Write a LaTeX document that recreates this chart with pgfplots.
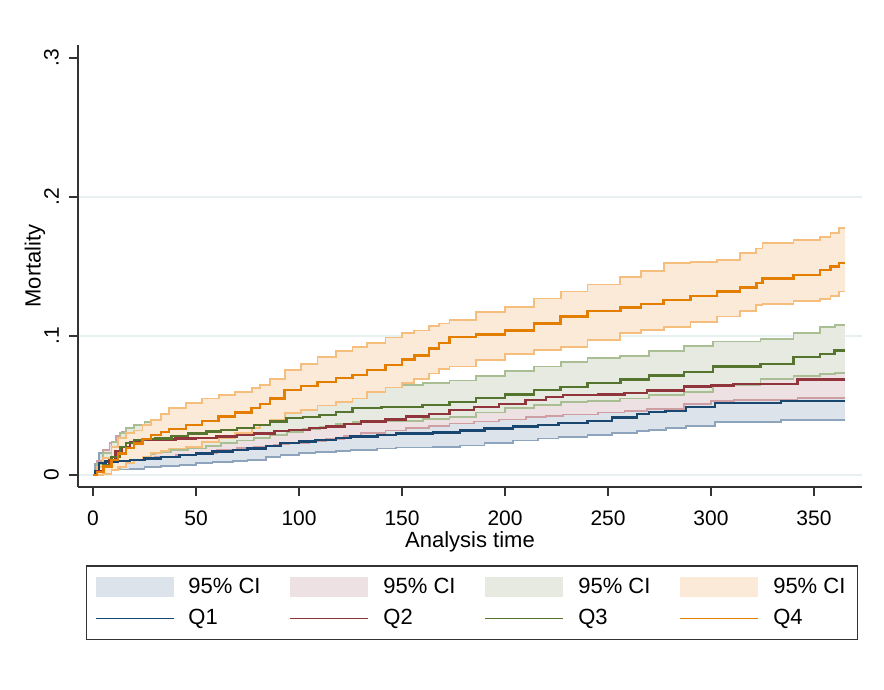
\documentclass[border=0pt]{standalone}
\usepackage{fontspec}
\setmainfont{Liberation Sans}
\usepackage{pgfplots}
\pgfplotsset{compat=1.18}
\usepackage{pgfplotstable}
\usepgfplotslibrary{fillbetween}

\definecolor{q1c}{RGB}{26,71,111}
\definecolor{q2c}{RGB}{144,53,59}
\definecolor{q3c}{RGB}{85,117,47}
\definecolor{q4c}{RGB}{227,126,0}
\definecolor{ci1f}{RGB}{221,227,235}
\definecolor{ci2f}{RGB}{238,225,227}
\definecolor{ci3f}{RGB}{230,234,224}
\definecolor{ci4f}{RGB}{251,234,215}
\definecolor{ci1l}{RGB}{141,164,188}
\definecolor{ci2l}{RGB}{206,158,163}
\definecolor{ci3l}{RGB}{170,190,148}
\definecolor{ci4l}{RGB}{246,190,125}
\definecolor{gridc}{RGB}{232,240,242}

\pgfplotsset{
  ciimg/.style={legend image code/.code={\fill[##1] (0pt,-5pt) rectangle (39pt,5pt);}},
  q1img/.style={legend image code/.code={\draw[q1c, line width=0.9pt] (0pt,0pt) -- (39pt,0pt);}},
  q2img/.style={legend image code/.code={\draw[q2c, line width=0.9pt] (0pt,0pt) -- (39pt,0pt);}},
  q3img/.style={legend image code/.code={\draw[q3c, line width=0.9pt] (0pt,0pt) -- (39pt,0pt);}},
  q4img/.style={legend image code/.code={\draw[q4c, line width=0.9pt] (0pt,0pt) -- (39pt,0pt);}},
}

% cumulative mortality, quartile groups: time, estimate, lower and upper 95% CI
\pgfplotstableread{
t est lo hi
0 0 0 0
1 0.003 0.001 0.008
3 0.0086 0.003 0.016
6 0.0096 0.0036 0.018
12 0.0100 0.0040 0.0185
18 0.0110 0.0046 0.020
25 0.0120 0.0058 0.021
33 0.0130 0.0065 0.022
42 0.0144 0.0072 0.024
50 0.0155 0.0085 0.026
58 0.0168 0.0096 0.027
68 0.0178 0.0102 0.029
75 0.0190 0.0108 0.030
84 0.0210 0.0128 0.032
91 0.0230 0.0144 0.035
100 0.0240 0.0156 0.036
108 0.0250 0.0168 0.037
118 0.0265 0.0174 0.039
125 0.0276 0.0180 0.040
138 0.0288 0.0190 0.041
147 0.0298 0.0198 0.043
165 0.0305 0.0202 0.044
178 0.0320 0.0212 0.046
190 0.0335 0.0228 0.047
204 0.0350 0.0248 0.049
216 0.0360 0.0262 0.050
226 0.0372 0.0276 0.052
240 0.0390 0.0290 0.053
252 0.0415 0.0305 0.056
264 0.0440 0.0318 0.059
270 0.0455 0.0325 0.061
278 0.0462 0.0336 0.062
288 0.0490 0.0352 0.066
302 0.0520 0.0384 0.068
334 0.0533 0.0396 0.070
365 0.0533 0.0396 0.070
}\qone

\pgfplotstableread{
t est lo hi
0 0 0 0
2 0.003 0.0005 0.010
5 0.0070 0.0025 0.018
8 0.0108 0.0045 0.023
11 0.0170 0.0075 0.028
14 0.0200 0.0090 0.031
18 0.0235 0.0110 0.0336
24 0.0250 0.0125 0.036
30 0.0255 0.0132 0.037
40 0.0262 0.0145 0.038
50 0.0268 0.0160 0.039
60 0.0276 0.0178 0.040
70 0.0288 0.0195 0.042
78 0.0300 0.0205 0.044
88 0.0315 0.0220 0.046
95 0.0324 0.0232 0.047
105 0.0340 0.0245 0.049
113 0.0350 0.0260 0.050
122 0.0365 0.0280 0.052
130 0.0384 0.0300 0.054
142 0.0400 0.0320 0.056
152 0.0420 0.0336 0.058
163 0.0440 0.0350 0.060
173 0.0468 0.0370 0.063
185 0.0490 0.0385 0.066
197 0.0510 0.0400 0.068
210 0.0540 0.0415 0.071
220 0.0560 0.0425 0.074
228 0.0576 0.0435 0.076
245 0.0580 0.0450 0.077
258 0.0590 0.0460 0.078
269 0.0607 0.0475 0.080
287 0.0636 0.0508 0.082
300 0.0645 0.0530 0.083
311 0.0655 0.0540 0.084
342 0.0688 0.0556 0.087
365 0.0688 0.0556 0.087
}\qtwo

\pgfplotstableread{
t est lo hi
0 0 0 0
2 0.002 0.0003 0.008
5 0.0070 0.0015 0.016
9 0.0130 0.0040 0.024
13 0.0200 0.0080 0.030
16 0.0230 0.0105 0.034
20 0.0250 0.0130 0.036
25 0.0258 0.0150 0.038
30 0.0264 0.0168 0.039
38 0.0280 0.0178 0.041
46 0.0300 0.0190 0.043
55 0.0312 0.0210 0.045
62 0.0324 0.0230 0.046
70 0.0340 0.0248 0.048
78 0.0360 0.0264 0.050
86 0.0385 0.0290 0.052
94 0.0408 0.0310 0.055
102 0.0418 0.0330 0.056
110 0.0430 0.0348 0.058
118 0.0455 0.0365 0.061
126 0.0480 0.0380 0.063
140 0.0490 0.0390 0.0647
160 0.0505 0.0405 0.066
173 0.0527 0.0420 0.068
186 0.0555 0.0450 0.071
200 0.0580 0.0480 0.075
214 0.0610 0.0505 0.078
227 0.0635 0.0527 0.0815
240 0.0660 0.0535 0.084
256 0.0688 0.0550 0.0856
270 0.0715 0.0575 0.089
287 0.0743 0.0600 0.0928
301 0.0780 0.0647 0.096
324 0.0800 0.0690 0.098
340 0.0850 0.0710 0.102
353 0.0870 0.0725 0.1067
360 0.0895 0.0736 0.108
365 0.0895 0.0736 0.108
}\qthree

\pgfplotstableread{
t est lo hi
0 0 0 0
2 0.002 0.0002 0.006
5 0.0060 0.0010 0.012
9 0.0110 0.0035 0.020
12 0.0156 0.0060 0.0266
16 0.0195 0.0085 0.030
20 0.0228 0.0108 0.032
24 0.0260 0.0130 0.036
28 0.0288 0.0156 0.0396
33 0.0310 0.0175 0.044
37 0.0330 0.0190 0.048
45 0.0360 0.0204 0.0516
53 0.0390 0.0235 0.055
61 0.0420 0.0264 0.0576
69 0.0450 0.0300 0.060
77 0.0480 0.0336 0.0624
81 0.0510 0.0360 0.065
86 0.0550 0.0395 0.069
93 0.0610 0.0444 0.0755
101 0.0640 0.0470 0.080
109 0.0670 0.0500 0.085
118 0.0700 0.0525 0.089
126 0.0720 0.0550 0.092
133 0.0755 0.0600 0.095
142 0.0790 0.0630 0.099
150 0.0830 0.0660 0.102
156 0.0860 0.0690 0.104
163 0.0910 0.0730 0.107
168 0.0950 0.0760 0.109
173 0.0995 0.0780 0.1115
186 0.1010 0.0830 0.117
200 0.1040 0.0870 0.121
214 0.1090 0.0900 0.127
227 0.1140 0.0920 0.132
240 0.1180 0.0970 0.137
256 0.1206 0.1020 0.1427
266 0.1230 0.1045 0.147
277 0.1260 0.1067 0.1523
290 0.1290 0.1100 0.1535
303 0.1320 0.1140 0.1547
314 0.1350 0.1180 0.160
322 0.1380 0.1223 0.163
325 0.1415 0.1230 0.1667
340 0.1440 0.1250 0.169
353 0.1475 0.1264 0.1715
358 0.1500 0.1290 0.174
362 0.1527 0.1320 0.1775
365 0.1527 0.1320 0.1775
}\qfour

\begin{document}
\begin{tikzpicture}
\path (0pt,0pt) rectangle (442pt,345pt);
\begin{axis}[
    at={(39pt,101.5pt)}, anchor=south west,
    scale only axis, width=392pt, height=221pt,
    xmin=-7.3, xmax=373.3, ymin=-0.00863, ymax=0.3094,
    axis x line*=bottom, axis y line*=left,
    axis line style={black!80, line width=0.6pt, -},
    xtick={0,50,...,350},
    ytick={0,0.1,0.2}, yticklabels={0,.1,.2},
    extra y ticks={0.3}, extra y tick labels={.3},
    extra y tick style={grid=none},
    ymajorgrids, major grid style={gridc, line width=0.6pt},
    tick align=outside, major tick length=4.5pt,
    tick style={black!80, line width=0.6pt},
    /pgf/number format/assume math mode=true,
    ticklabel style={font=\fontsize{10.5}{12}\selectfont},
    xticklabel style={yshift=-4pt},
    yticklabel style={xshift=-1.5pt, rotate=90, anchor=south},
    xlabel={Analysis time}, ylabel={Mortality},
    label style={font=\fontsize{11}{13}\selectfont},
    xlabel style={at={(rel axis cs:0.5,-0.125)}, anchor=center},
    ylabel style={at={(rel axis cs:-0.0548,0.5)}, anchor=center},
    fill between/on layer=main,
    legend columns=4,
    legend cell align=left,
    legend style={at={(rel axis cs:0.5026,-0.262)}, anchor=center,
        draw=black!80, line width=0.6pt,
        font=\fontsize{11}{13}\selectfont,
        inner xsep=4pt, inner ysep=4pt, row sep=2.5pt,
        /tikz/every odd column/.append style={column sep=5pt},
        /tikz/every even column/.append style={column sep=12.5pt}},
]
% confidence bands, drawn in group order
\addplot[name path=l1, draw=none, const plot, forget plot] table[x=t,y=lo]{\qone};
\addplot[name path=h1, draw=none, const plot, forget plot] table[x=t,y=hi]{\qone};
\addplot[ci1f, forget plot] fill between[of=l1 and h1];
\addplot[ci1l, line width=0.9pt, const plot, forget plot] table[x=t,y=lo]{\qone};
\addplot[ci1l, line width=0.9pt, const plot, forget plot] table[x=t,y=hi]{\qone};

\addplot[name path=l2, draw=none, const plot, forget plot] table[x=t,y=lo]{\qtwo};
\addplot[name path=h2, draw=none, const plot, forget plot] table[x=t,y=hi]{\qtwo};
\addplot[ci2f, forget plot] fill between[of=l2 and h2];
\addplot[ci2l, line width=0.9pt, const plot, forget plot] table[x=t,y=lo]{\qtwo};
\addplot[ci2l, line width=0.9pt, const plot, forget plot] table[x=t,y=hi]{\qtwo};

\addplot[name path=l3, draw=none, const plot, forget plot] table[x=t,y=lo]{\qthree};
\addplot[name path=h3, draw=none, const plot, forget plot] table[x=t,y=hi]{\qthree};
\addplot[ci3f, forget plot] fill between[of=l3 and h3];
\addplot[ci3l, line width=0.9pt, const plot, forget plot] table[x=t,y=lo]{\qthree};
\addplot[ci3l, line width=0.9pt, const plot, forget plot] table[x=t,y=hi]{\qthree};

\addplot[name path=l4, draw=none, const plot, forget plot] table[x=t,y=lo]{\qfour};
\addplot[name path=h4, draw=none, const plot, forget plot] table[x=t,y=hi]{\qfour};
\addplot[ci4f, forget plot] fill between[of=l4 and h4];
\addplot[ci4l, line width=0.9pt, const plot, forget plot] table[x=t,y=lo]{\qfour};
\addplot[ci4l, line width=0.9pt, const plot, forget plot] table[x=t,y=hi]{\qfour};

% estimates
\addplot[q1c, line width=1.2pt, const plot, forget plot] table[x=t,y=est]{\qone};
\addplot[q2c, line width=1.2pt, const plot, forget plot] table[x=t,y=est]{\qtwo};
\addplot[q3c, line width=1.2pt, const plot, forget plot] table[x=t,y=est]{\qthree};
\addplot[q4c, line width=1.2pt, const plot, forget plot] table[x=t,y=est]{\qfour};

\addlegendimage{ciimg, draw=none, fill=ci1f}\addlegendentry{95\% CI}
\addlegendimage{ciimg, draw=none, fill=ci2f}\addlegendentry{95\% CI}
\addlegendimage{ciimg, draw=none, fill=ci3f}\addlegendentry{95\% CI}
\addlegendimage{ciimg, draw=none, fill=ci4f}\addlegendentry{95\% CI}
\addlegendimage{q1img}\addlegendentry{Q1}
\addlegendimage{q2img}\addlegendentry{Q2}
\addlegendimage{q3img}\addlegendentry{Q3}
\addlegendimage{q4img}\addlegendentry{Q4}
\end{axis}
\end{tikzpicture}
\end{document}
